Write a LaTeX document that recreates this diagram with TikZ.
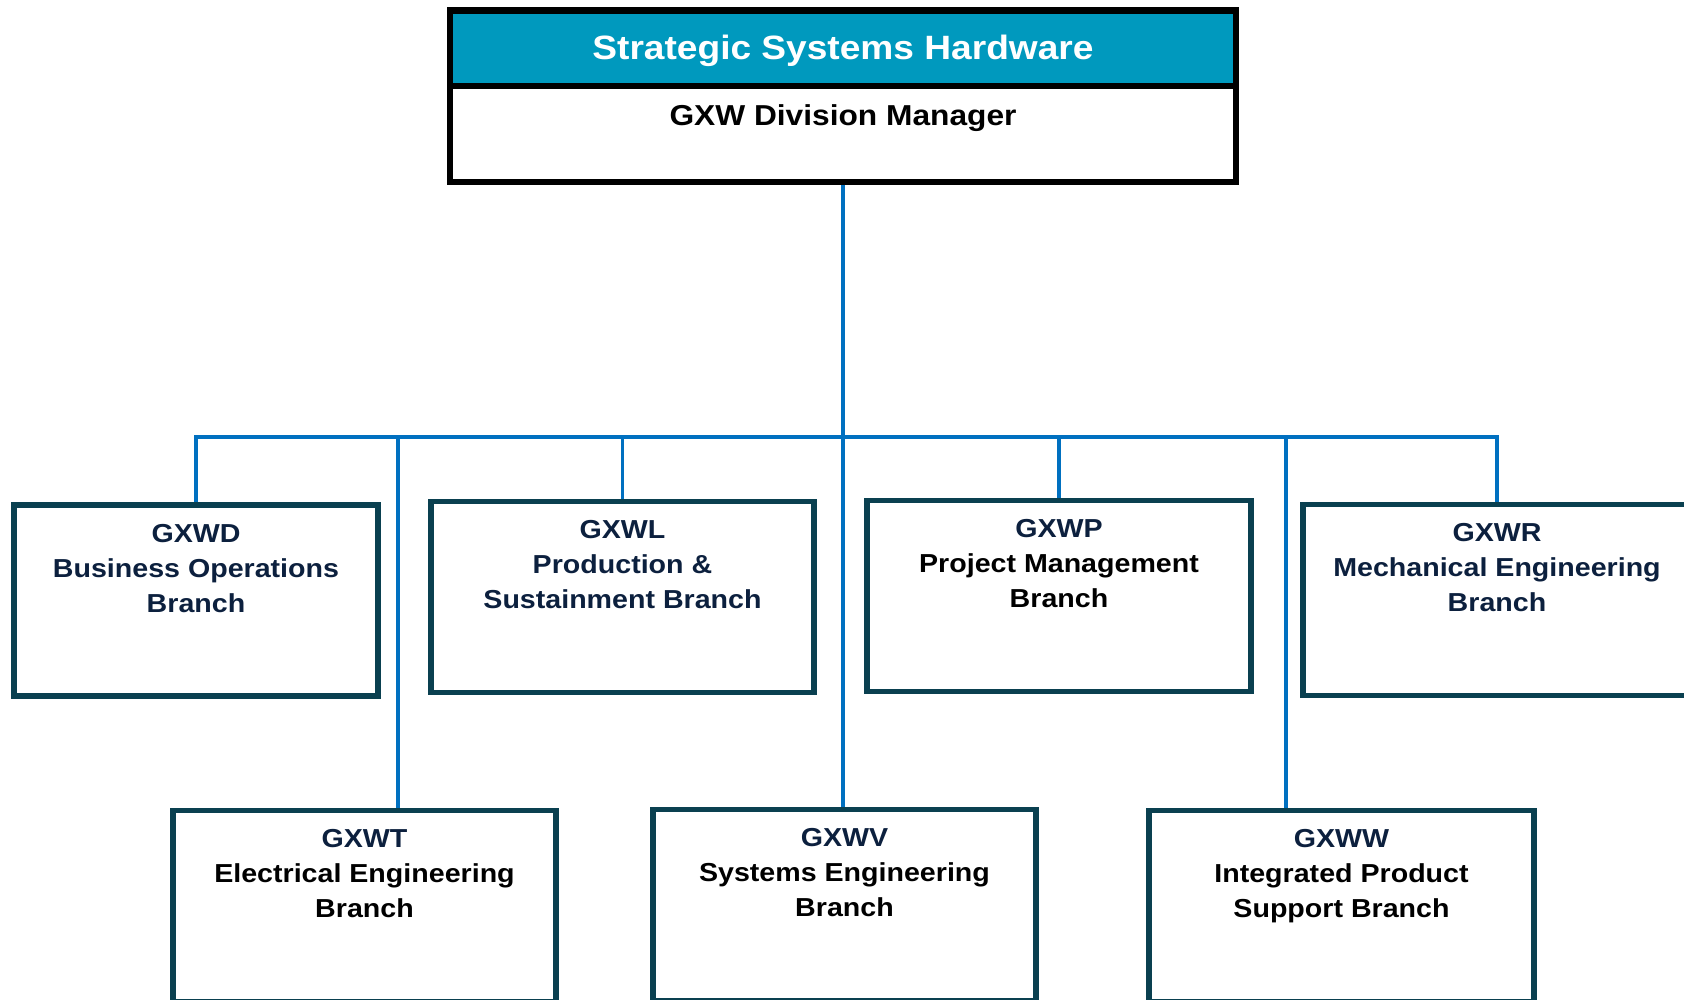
\documentclass[tikz,border=0pt]{standalone}
\usepackage{fontspec}
\setmainfont{Liberation Sans}[FakeStretch=1.1]
\usetikzlibrary{calc}
\definecolor{hdr}{RGB}{0,153,190}
\definecolor{bord}{RGB}{10,64,80}
\definecolor{navy}{RGB}{12,32,62}
\definecolor{wirec}{RGB}{0,112,192}
\tikzset{
  branch/.style={draw=bord, line width=3.2pt, fill=white, rectangle, inner sep=0pt, minimum height=191*0.02cm},
  btext/.style={anchor=north, inner sep=0pt, align=center, text=navy,
    font=\bfseries\fontsize{14.8}{20}\selectfont},
  wire/.style={draw=wirec, line width=1.9pt},
  topbox/.style={draw=black, line width=3.2pt, fill=white, rectangle, inner sep=0pt},
}
\begin{document}
\begin{tikzpicture}[x=0.02cm,y=-0.02cm]
\useasboundingbox (0,0) rectangle (1684,1000);
\clip (0,0) rectangle (1684,1000);

% top box
\node[topbox, minimum width=786*0.02cm, minimum height=172*0.02cm] (top) at (843,96) {};
\node[topbox, fill=hdr, minimum width=786*0.02cm, minimum height=75*0.02cm] (hdr) at (843,48.5) {};
\node[anchor=base, inner sep=0pt, text=white, font=\bfseries\fontsize{19.2}{23}\selectfont] (title) at (843,60) {Strategic Systems Hardware};
\node[inner sep=0pt, text=black, font=\bfseries\fontsize{16.4}{19}\selectfont] (mgr) at (843,118) {GXW Division Manager};

% branch boxes
\node[branch, minimum width=364*0.02cm] (d) at (196,600.5) {};
\node[branch, minimum width=383*0.02cm] (l) at (622.5,597) {};
\node[branch, minimum width=384*0.02cm] (p) at (1059,596) {};
\node[branch, minimum width=388*0.02cm] (r) at (1497,600) {};
\node[branch, minimum width=383*0.02cm] (t) at (364.5,906) {};
\node[branch, minimum width=383*0.02cm] (v) at (844.5,905) {};
\node[branch, minimum width=385*0.02cm] (w) at (1341.5,906) {};

% texts
\node[btext] (dt) at ($(d.north)+(0,21.5)$) {GXWD\\Business Operations\\Branch};
\node[btext] (lt) at ($(l.north)+(0,21.5)$) {GXWL\\Production \&\\Sustainment Branch};
\node[btext, text=black] (pt) at ($(p.north)+(0,21.5)$) {{\color{navy}GXWP}\\Project Management\\Branch};
\node[btext] (rt) at ($(r.north)+(0,21.5)$) {GXWR\\Mechanical Engineering\\Branch};
\node[btext, text=black] (tt) at ($(t.north)+(0,21.5)$) {{\color{navy}GXWT}\\Electrical Engineering\\Branch};
\node[btext, text=black] (vt) at ($(v.north)+(0,21.5)$) {{\color{navy}GXWV}\\Systems Engineering\\Branch};
\node[btext, text=black] (wt) at ($(w.north)+(0,21.5)$) {{\color{navy}GXWW}\\Integrated Product\\Support Branch};

% connectors
\coordinate (bus) at (843,437);
\coordinate (tj) at (398,437);
\coordinate (wj) at (1286,437);
\draw[wire] (top.south) -- (top.south |- v.north);
\draw[wire] (d.north) -- (d.north |- bus) -- (r.north |- bus) -- (r.north);
\draw[wire] (l.north |- bus) -- (l.north);
\draw[wire] (p.north |- bus) -- (p.north);
\draw[wire] (tj) -- (tj |- t.north);
\draw[wire] (wj) -- (wj |- w.north);
\end{tikzpicture}
\end{document}
